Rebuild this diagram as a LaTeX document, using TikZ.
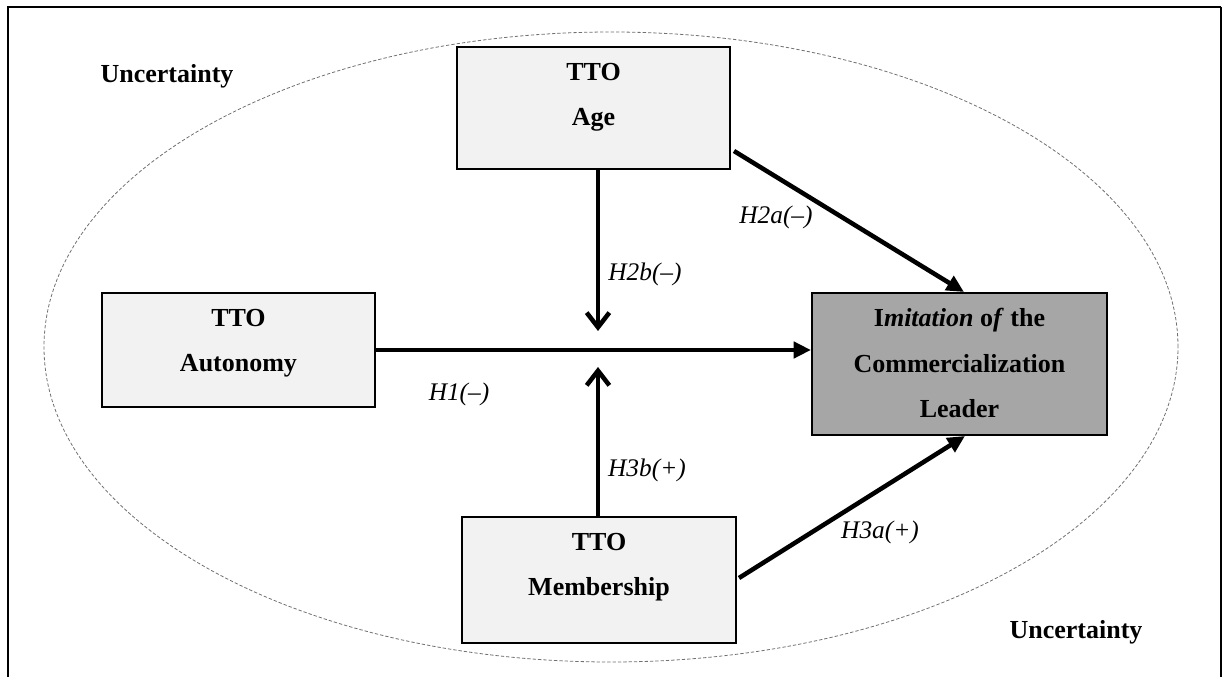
\documentclass[tikz,border=0pt]{standalone}
\usepackage{fontspec}
\setmainfont{Liberation Serif}
\usetikzlibrary{arrows.meta,calc}
\definecolor{lightbox}{HTML}{F2F2F2}
\definecolor{darkbox}{HTML}{A6A6A6}
\definecolor{ellgray}{HTML}{707070}
\begin{document}
\begin{tikzpicture}[x=0.75pt,y=-0.75pt,
  box/.style={draw=black, line width=1.5pt, fill=lightbox, inner sep=0pt},
  darkboxst/.style={box, fill=darkbox},
  boxtext/.style={align=center, inner sep=0pt, font=\fontsize{19.5}{34}\selectfont\bfseries},
  hyp/.style={inner sep=0pt, font=\fontsize{19}{23}\selectfont\itshape},
  unc/.style={inner sep=0pt, font=\fontsize{19.5}{23}\selectfont\bfseries},
  mainarrow/.style={line width=3.4pt, -{Triangle[length=13pt,width=12pt]}},
  modarrow/.style={line width=3.4pt, -{Straight Barb[length=11pt,width=17pt,line width=3.4pt]}},
  frameline/.style={line width=2pt, black}]
\useasboundingbox (0,0) rectangle (1222,677);
% frame (open at the bottom)
\draw[frameline] (8,677) -- (8,7) -- (1221,7);
\draw[line width=1pt] (1221,7) -- (1221,677);
% uncertainty ellipse
\coordinate (env) at (611,347);
\draw[ellgray, line width=0.6pt, dash pattern=on 2.5pt off 1.5pt] (env) ellipse [x radius=425.25pt, y radius=236.25pt];
\node[unc] (unc1) at (167,76) {Uncertainty};
\node[unc] (unc2) at (1076,632) {Uncertainty};
% boxes
\node[box, minimum width=204.75pt, minimum height=91.5pt] (age) at (593.5,108) {};
\node[box, minimum width=204.75pt, minimum height=85.5pt] (aut) at (238.5,350) {};
\node[darkboxst, minimum width=221.25pt, minimum height=106.5pt] (imi) at (959.5,364) {};
\node[box, minimum width=205.5pt, minimum height=94.5pt] (mem) at (599,580) {};
\node[boxtext] (agetxt) at (593.5,97) {TTO\\Age};
\node[boxtext] (auttxt) at (238.5,343) {TTO\\Autonomy};
\node[boxtext] (imitxt) at (959.5,363) {I\textit{mitation} o\textit{f} the\\Commercialization\\Leader};
\node[boxtext] (memtxt) at (599,567) {TTO\\Membership};
% connectors
\coordinate (dtip) at (598,331);
\coordinate (utip) at (598,367);
\draw[mainarrow] (aut.east) -- (imi.west |- aut.east);
\draw[modarrow] (dtip |- age.south) -- (dtip);
\draw[modarrow] (utip |- mem.north) -- (utip);
\draw[mainarrow] ($(age.south east)+(3,-19)$) -- ($(imi.north west)+(153,0)$);
\draw[mainarrow] ($(mem.east)+(2,-2)$) -- ($(imi.south west)+(154,0)$);
% labels
\node[hyp] (h2a) at (776,217) {H2a(–)};
\node[hyp] (h2b) at (645,274) {H2b(–)};
\node[hyp] (h1) at (459,394) {H1(–)};
\node[hyp] (h3b) at (647,470) {H3b(+)};
\node[hyp] (h3a) at (880,532) {H3a(+)};
\end{tikzpicture}
\end{document}
